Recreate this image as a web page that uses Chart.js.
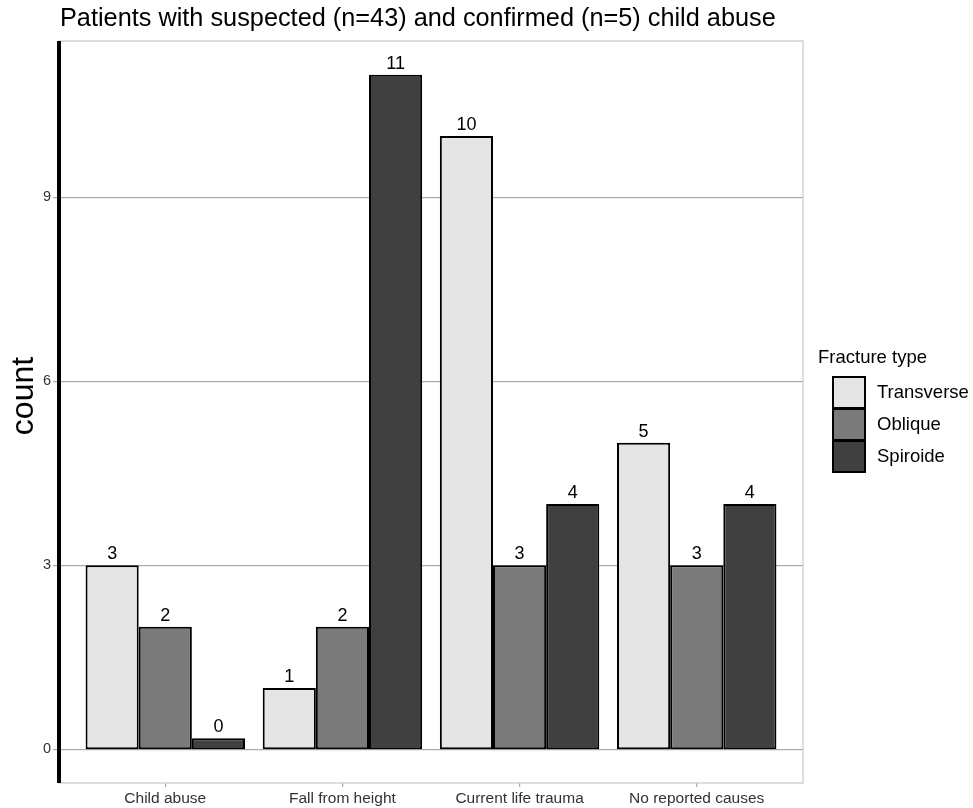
<!DOCTYPE html>
<html>
<head>
<meta charset="utf-8">
<script src="https://cdn.jsdelivr.net/npm/chart.js@4"></script>
<style>body{margin:0;background:#fff}</style>
</head>
<body>
<canvas id="chart" width="973" height="808"></canvas>
<script>
const categories = ['Child abuse', 'Fall from height', 'Current life trauma', 'No reported causes'];
const seriesNames = ['Transverse', 'Oblique', 'Spiroide'];
const transverse = [3, 1, 10, 5];
const oblique = [2, 2, 3, 3];
const spiroide = [0, 11, 4, 4];
const yTicks = [0, 3, 6, 9];
const chartTitle = 'Patients with suspected (n=43) and confirmed (n=5) child abuse';
const legendTitle = 'Fracture type';
const yTitle = 'count';

const FONT = '"Liberation Sans", Arial, sans-serif';
const fills = ['#e5e5e5', '#7a7a7a', '#404040'];

const toPoints = arr => arr.map((v, i) => ({ x: i + 1, y: v }));

// value labels, panel border, titles and legend
const extras = {
    id: 'extras',
    afterDatasetsDraw(chart) {
        const ctx = chart.ctx;
        const a = chart.chartArea;
        ctx.save();
        ctx.strokeStyle = '#c8c8c8';
        ctx.lineWidth = 1.2;
        ctx.strokeRect(a.left, a.top, a.right - a.left, a.bottom - a.top);
        // thick black left axis line
        ctx.strokeStyle = '#000';
        ctx.lineWidth = 4;
        ctx.beginPath();
        ctx.moveTo(a.left, a.top);
        ctx.lineTo(a.left, a.bottom);
        ctx.stroke();

        ctx.fillStyle = '#000';
        ctx.font = '18px ' + FONT;
        ctx.textAlign = 'center';
        ctx.textBaseline = 'alphabetic';
        chart.data.datasets.forEach((ds, di) => {
            chart.getDatasetMeta(di).data.forEach((el, i) => {
                ctx.fillText(String(ds.data[i].y), el.x, el.y - 6);
            });
        });
        ctx.restore();
    },
    afterDraw(chart) {
        const ctx = chart.ctx;
        ctx.save();
        ctx.fillStyle = '#000';
        ctx.textAlign = 'left';
        ctx.textBaseline = 'alphabetic';
        ctx.font = '25.3px ' + FONT;
        ctx.fillText(chartTitle, 60, 26);

        // y axis title
        ctx.save();
        ctx.translate(33, 396);
        ctx.rotate(-Math.PI / 2);
        ctx.textAlign = 'center';
        ctx.font = '32px ' + FONT;
        ctx.fillText(yTitle, 0, 0);
        ctx.restore();

        ctx.textBaseline = 'middle';
        ctx.font = '18.5px ' + FONT;
        ctx.fillText(legendTitle, 818, 358);
        chart.data.datasets.forEach((ds, i) => {
            const y = 377 + i * 32;
            ctx.fillStyle = ds.backgroundColor;
            ctx.fillRect(833, y, 32, 31);
            ctx.strokeStyle = '#000';
            ctx.lineWidth = 2;
            ctx.strokeRect(833, y, 32, 31);
            ctx.fillStyle = '#000';
            ctx.fillText(ds.label, 877, y + 16);
        });
        ctx.restore();
    }
};

new Chart(document.getElementById('chart').getContext('2d'), {
    type: 'bar',
    data: {
        datasets: [
            { label: seriesNames[0], data: toPoints(transverse), backgroundColor: fills[0] },
            { label: seriesNames[1], data: toPoints(oblique), backgroundColor: fills[1] },
            { label: seriesNames[2], data: toPoints(spiroide), backgroundColor: fills[2] }
        ]
    },
    options: {
        responsive: false,
        animation: false,
        datasets: {
            bar: {
                borderColor: '#000',
                borderWidth: 2,
                borderSkipped: false,
                categoryPercentage: 0.9,
                barPercentage: 1.0,
                minBarLength: 11,
                base: -0.001
            }
        },
        layout: { padding: { top: 41, right: 170, left: 0, bottom: 0 } },
        plugins: {
            legend: { display: false },
            title: { display: false },
            tooltip: { enabled: false }
        },
        scales: {
            x: {
                type: 'linear',
                offset: false,
                min: 0.4,
                max: 4.6,
                afterBuildTicks: s => { s.ticks = categories.map((_, i) => ({ value: i + 1 })); },
                afterFit: s => { s.height = 25; },
                border: { display: false },
                grid: { offset: false, drawOnChartArea: false, drawTicks: true, tickLength: 4, color: '#aaa', lineWidth: 1.2 },
                ticks: {
                    callback: v => categories[v - 1],
                    font: { size: 15.5, family: FONT },
                    color: '#333',
                    padding: 2,
                    maxRotation: 0,
                    autoSkip: false
                }
            },
            y: {
                min: -0.55,
                max: 11.55,
                afterBuildTicks: s => { s.ticks = yTicks.map(v => ({ value: v })); },
                afterFit: s => { s.width = 59; },
                border: { display: false },
                grid: { color: '#aaa', lineWidth: 1.2, tickLength: 6, tickColor: '#aaa' },
                ticks: {
                    font: { size: 14.5, family: FONT },
                    color: '#333',
                    padding: 2
                }
            }
        }
    },
    plugins: [extras]
});
</script>
</body>
</html>
